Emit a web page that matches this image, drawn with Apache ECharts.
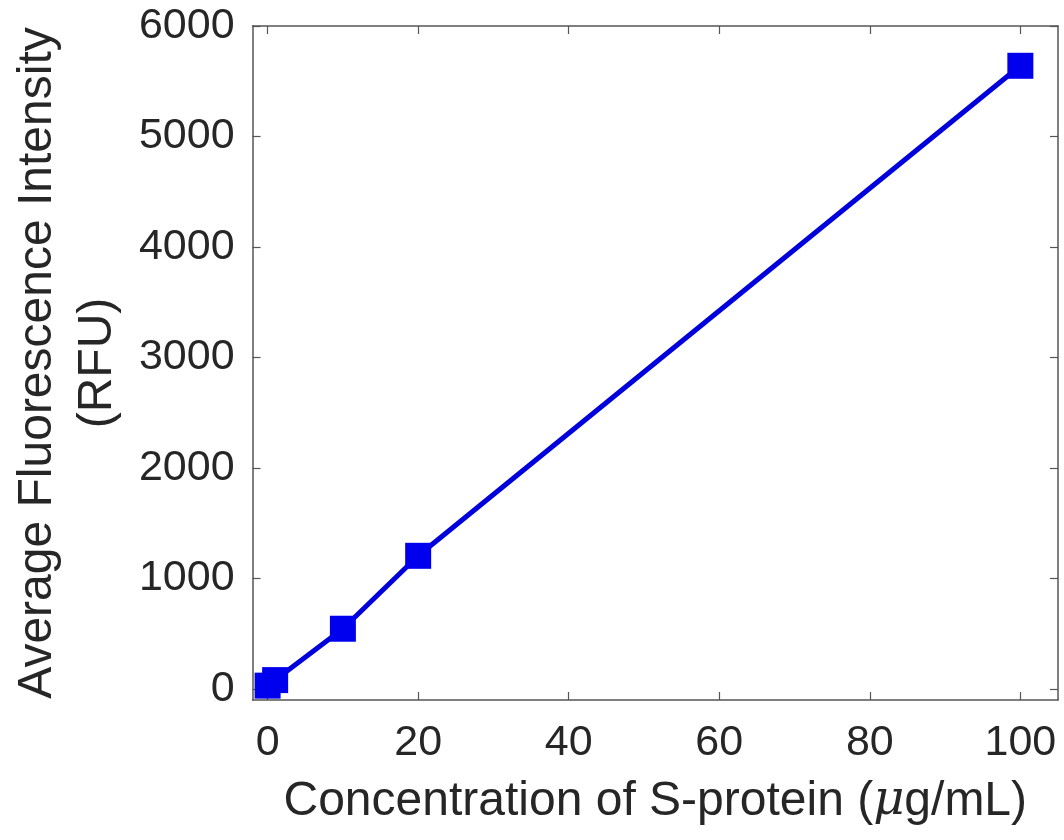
<!DOCTYPE html>
<html>
<head>
<meta charset="utf-8">
<script src="https://cdn.jsdelivr.net/npm/echarts@6/dist/echarts.min.js"></script>
<style>
  html, body { margin: 0; padding: 0; background: #fff; }
  #chart { width: 1064px; height: 840px; }
</style>
</head>
<body>
<div id="chart"></div>
<script>
// 浓度 (μg/mL) 与平均荧光强度
var concentration = [0, 1, 10, 20, 100];
var intensity = [30, 80, 545, 1205, 5640];
var xTicks = [0, 20, 40, 60, 80, 100];
var yTicks = [0, 1000, 2000, 3000, 4000, 5000, 6000];

function chart() {
    var myChart = echarts.init(document.getElementById('chart'));
    var axisColor = '#555555';
    var textColor = '#262626';
    var font = 'Liberation Sans, Arial, sans-serif';
    var plain = function (v) { return String(v); };

    var seriesData = concentration.map(function (c, i) {
        return [c, intensity[i]];
    });

    // 坐标轴公共部分
    function boxAxis(extra) {
        var base = {
            type: 'value',
            axisLine: { show: true, onZero: false, lineStyle: { color: axisColor, width: 1.5 } },
            axisTick: { show: true, inside: true, length: 8, lineStyle: { color: axisColor, width: 1.2 } },
            axisLabel: { show: false },
            splitLine: { show: false }
        };
        return Object.assign(base, extra);
    }

    var option = {
        animation: false,
        grid: { left: 249, right: 6, top: 26, bottom: 140 },
        xAxis: [boxAxis({
            min: -2,
            max: 105,
            position: 'bottom',
            name: '{n|Concentration of S-protein (}{i|μ}{n|g/mL)}',
            nameLocation: 'middle',
            nameGap: 78,
            nameTextStyle: {
                rich: {
                    n: { fontSize: 48, fontFamily: font, color: textColor },
                    i: { fontSize: 48, fontFamily: 'DejaVu Serif, serif', fontStyle: 'italic', color: textColor }
                }
            },
            axisTick: { show: true, inside: true, length: 8, customValues: xTicks, lineStyle: { color: axisColor, width: 1.2 } },
            axisLabel: { show: true, customValues: xTicks, formatter: plain, fontSize: 43, fontFamily: font, color: textColor, margin: 22 }
        }), boxAxis({
            min: -2,
            max: 105,
            position: 'top',
            axisTick: { show: true, inside: true, length: 8, customValues: xTicks, lineStyle: { color: axisColor, width: 1.2 } }
        })],
        yAxis: [boxAxis({
            min: -100,
            max: 6000,
            position: 'left',
            name: 'Average Fluorescence Intensity\n(RFU)',
            nameLocation: 'middle',
            nameGap: 124,
            nameTextStyle: { fontSize: 48, fontFamily: font, color: textColor, lineHeight: 60 },
            axisTick: { show: true, inside: true, length: 8, customValues: yTicks, lineStyle: { color: axisColor, width: 1.2 } },
            axisLabel: { show: true, customValues: yTicks, formatter: plain, fontSize: 43, fontFamily: font, color: textColor, margin: 18 }
        }), boxAxis({
            min: -100,
            max: 6000,
            position: 'right',
            axisTick: { show: true, inside: true, length: 8, customValues: yTicks, lineStyle: { color: axisColor, width: 1.2 } }
        })],
        series: [{
            type: 'line',
            data: seriesData,
            symbol: 'rect',
            symbolSize: 26,
            color: '#0000ee',
            lineStyle: { width: 5, color: '#0000dd' },
            itemStyle: { color: '#0000ee' }
        }]
    };

    myChart.setOption(option);
}
chart();
</script>
</body>
</html>
